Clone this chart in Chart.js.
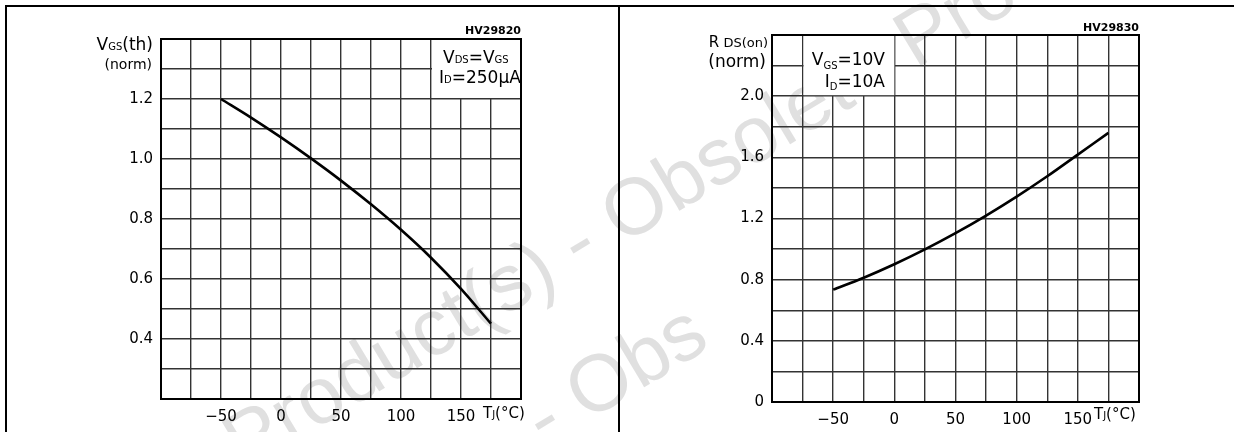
<!DOCTYPE html>
<html>
<head>
<meta charset="utf-8">
<script src="https://cdn.jsdelivr.net/npm/chart.js@4.4.1/dist/chart.umd.min.js"></script>
<style>
  html, body { margin: 0; padding: 0; background: #fff; }
  body { width: 1234px; height: 432px; position: relative; overflow: hidden; }
  canvas { position: absolute; top: 0; }
  #left { left: 0; }
  #right { left: 617px; }
  .frame { position: absolute; left: 5px; top: 5px; right: -10px; bottom: -10px; border-top: 2px solid #000; border-left: 2px solid #000; }
  .divider { position: absolute; left: 618px; top: 5px; width: 2px; bottom: 0; background: #000; }
  .wm { position: absolute; font: 80px "Liberation Sans"; line-height: 80px; color: #e0e0e0; white-space: nowrap; transform-origin: 0 68px; }
</style>
</head>
<body>
<div class="wm" style="left:245px; top:405px; transform: rotate(-31deg);">Product(s) - Obsolete Product(s)</div>
<div class="wm" style="left:545px; top:380px; transform: rotate(-31deg);">- Obs</div>
<canvas id="left" width="617" height="432"></canvas>
<canvas id="right" width="617" height="432"></canvas>
<div class="frame"></div>
<div class="divider"></div>
<script>
// junction temperature, °C
const tempC = [-50, -25, 0, 25, 50, 75, 100, 125, 150, 175];
// normalised gate threshold voltage
const vgsNorm = [1.2, 1.138, 1.072, 1.002, 0.928, 0.849, 0.764, 0.671, 0.567, 0.451];
// normalised on resistance
const rdsNorm = [0.735, 0.813, 0.901, 0.998, 1.104, 1.219, 1.343, 1.476, 1.618, 1.76];

const xTickLabels = [-50, 0, 50, 100, 150];
const vgsTickLabels = [0.4, 0.6, 0.8, 1.0, 1.2];
const rdsTickLabels = [0, 0.4, 0.8, 1.2, 1.6, 2.0];

const FONT = '"DejaVu Sans"';

// draws text made of pieces with different sizes (for subscripts)
function rich(ctx, parts, x, y, align) {
  let w = 0;
  parts.forEach(p => {
    ctx.font = (p[3] || '') + p[1] + 'px ' + FONT;
    w += ctx.measureText(p[0]).width;
  });
  let cx = align === 'right' ? x - w : x;
  ctx.textAlign = 'left';
  ctx.textBaseline = 'alphabetic';
  ctx.fillStyle = '#000';
  parts.forEach(p => {
    ctx.font = (p[3] || '') + p[1] + 'px ' + FONT;
    ctx.fillText(p[0], cx, y + (p[2] || 0));
    cx += ctx.measureText(p[0]).width;
  });
}

function xLabel(v) {
  if (!xTickLabels.includes(v)) return '';
  return v < 0 ? '\u2212' + Math.abs(v) : String(v);
}

function yLabel(list) {
  return function (v) {
    const r = Math.round(v * 10) / 10;
    if (!list.some(t => Math.abs(t - r) < 1e-6)) return '';
    return r === 0 ? '0' : r.toFixed(1);
  };
}

function makeChart(id, data, yMin, yMax, yStep, yTicks, dims, deco) {
  const ctx = document.getElementById(id).getContext('2d');
  return new Chart(ctx, {
    type: 'line',
    data: {
      labels: tempC,
      datasets: [{
        data: data.map((v, i) => ({ x: tempC[i], y: v })),
        borderColor: '#000',
        borderWidth: 2.6,
        pointRadius: 0,
        cubicInterpolationMode: 'monotone',
        fill: false
      }]
    },
    options: {
      responsive: false,
      animation: false,
      layout: { padding: { left: 0, top: dims.top, right: dims.right, bottom: 0 } },
      plugins: { legend: { display: false }, tooltip: { enabled: false } },
      scales: {
        x: {
          type: 'linear',
          min: -100,
          max: 200,
          afterFit: s => { s.height = dims.xh; },
          ticks: {
            stepSize: 25,
            autoSkip: false,
            maxRotation: 0,
            padding: 9,
            color: '#000',
            font: { family: 'DejaVu Sans', size: 15 },
            callback: xLabel
          },
          grid: { color: '#333', lineWidth: 1.4, drawTicks: false },
          border: { display: false }
        },
        y: {
          min: yMin,
          max: yMax,
          afterFit: s => { s.width = dims.yw; },
          ticks: {
            stepSize: yStep,
            autoSkip: false,
            padding: 8,
            color: '#000',
            font: { family: 'DejaVu Sans', size: 15 },
            callback: yLabel(yTicks)
          },
          grid: { color: '#333', lineWidth: 1.4, drawTicks: false },
          border: { display: false }
        }
      }
    },
    plugins: [{
      id: 'deco',
      beforeDatasetsDraw(chart) {
        const c = chart.ctx, xs = chart.scales.x, ys = chart.scales.y;
        const x0 = xs.getPixelForValue(deco.box[0]), x1 = xs.getPixelForValue(deco.box[1]);
        const y0 = ys.getPixelForValue(deco.box[3]), y1 = ys.getPixelForValue(deco.box[2]);
        c.save();
        c.fillStyle = '#fff';
        c.fillRect(Math.min(x0, x1) + 1, y0, Math.abs(x1 - x0) - 1, y1 - y0 - 1);
        c.restore();
      },
      afterDraw(chart) {
        const c = chart.ctx, a = chart.chartArea;
        c.save();
        c.strokeStyle = '#000';
        c.lineWidth = 2;
        c.strokeRect(a.left, a.top, a.right - a.left, a.bottom - a.top);
        deco.texts.forEach(t => rich(c, t.parts, t.x, t.y, t.align));
        c.restore();
      }
    }]
  });
}

makeChart('left', vgsNorm, 0.2, 1.4, 0.1, vgsTickLabels,
  { top: 39, right: 96, xh: 33, yw: 161 },
  {
    box: [125, 200, 1.2, 1.4],
    texts: [
      { parts: [['V', 17], ['GS', 10], ['(th)', 17]], x: 153, y: 50, align: 'right' },
      { parts: [['(norm)', 14]], x: 152, y: 69, align: 'right' },
      { parts: [['HV29820', 11, 0, 'bold ']], x: 521, y: 34, align: 'right' },
      { parts: [['V', 17], ['DS', 10], ['=', 17], ['V', 17], ['GS', 10]], x: 443, y: 63, align: 'left' },
      { parts: [['I', 17], ['D', 10], ['=250\u00b5A', 17]], x: 439, y: 83, align: 'left' },
      { parts: [['T', 15], ['J', 10], ['(\u00b0C)', 15]], x: 483, y: 418, align: 'left' }
    ]
  });

makeChart('right', rdsNorm, 0, 2.4, 0.2, rdsTickLabels,
  { top: 35, right: 95, xh: 30, yw: 155 },
  {
    box: [-75, 0, 2.0, 2.4],
    texts: [
      { parts: [['R', 15], [' DS(on)', 13]], x: 151, y: 47, align: 'right' },
      { parts: [['(norm)', 17]], x: 149, y: 67, align: 'right' },
      { parts: [['HV29830', 11, 0, 'bold ']], x: 522, y: 31, align: 'right' },
      { parts: [['V', 17], ['GS', 10, 4], ['=10V', 17]], x: 268, y: 65, align: 'right' },
      { parts: [['I', 17], ['D', 10, 3], ['=10A', 17]], x: 268, y: 87, align: 'right' },
      { parts: [['T', 15], ['J', 10], ['(\u00b0C)', 15]], x: 477, y: 419, align: 'left' }
    ]
  });
</script>
</body>
</html>
